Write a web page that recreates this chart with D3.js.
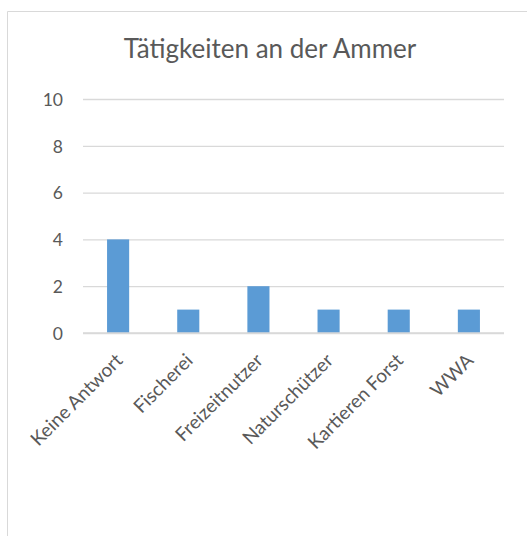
<!DOCTYPE html>
<html lang="de">
<head>
<meta charset="UTF-8">
<title>Tätigkeiten an der Ammer</title>
<script src="https://d3js.org/d3.v7.min.js"></script>
<style>
    html, body { margin: 0; padding: 0; background: #fff; overflow: hidden; }
    svg { display: block; }
</style>
</head>
<body>
<div id="chart"></div>
<script>
    // Daten aus dem Bild
    const categories = ["Keine Antwort", "Fischerei", "Freizeitnutzer", "Naturschützer", "Kartieren Forst", "WWA"];
    const values = [4, 1, 2, 1, 1, 1];
    const yTicks = [0, 2, 4, 6, 8, 10];
    const title = "Tätigkeiten an der Ammer";

    const width = 527, height = 536;
    const margin = { top: 99, right: 23, bottom: 203, left: 83 };
    const font = "Lato, 'Open Sans', sans-serif";

    const svg = d3.select("#chart").append("svg")
        .attr("width", width)
        .attr("height", height)
        .style("font-family", font);

    // Rahmen links und oben (rechts/unten liegt ausserhalb des Bildes)
    svg.append("path")
        .attr("d", `M7.5,${height} V11.5 H${width}`)
        .attr("fill", "none")
        .attr("stroke", "#d9d9d9");

    svg.append("text")
        .attr("x", 270).attr("y", 58)
        .attr("text-anchor", "middle")
        .attr("fill", "#595959")
        .style("font-size", "26px")
        .text(title);

    const x = d3.scaleBand()
        .domain(categories)
        .range([margin.left, width - margin.right])
        .paddingInner(0.685)
        .paddingOuter(0.343);

    const y = d3.scaleLinear()
        .domain([0, 10])
        .range([height - margin.bottom, margin.top]);

    // Gitterlinien
    const yAxis = svg.append("g")
        .attr("transform", `translate(${margin.left},0)`)
        .call(d3.axisLeft(y).tickValues(yTicks).tickSize(-(width - margin.left - margin.right)).tickPadding(20));
    yAxis.attr("font-family", null).attr("font-size", null);
    yAxis.select(".domain").remove();
    yAxis.selectAll(".tick line").attr("stroke", "#d9d9d9").attr("stroke-width", 1.3);
    yAxis.selectAll(".tick text")
        .attr("dy", "0.36em")
        .attr("fill", "#595959")
        .style("font-size", "17.5px");

    svg.append("g")
        .selectAll("rect")
        .data(values)
        .join("rect")
        .attr("x", (d, i) => x(categories[i]))
        .attr("y", d => y(d))
        .attr("width", x.bandwidth())
        .attr("height", d => y(0) - y(d))
        .attr("fill", "#5b9bd5");

    // Nulllinie
    svg.append("line")
        .attr("x1", margin.left).attr("x2", width - margin.right)
        .attr("y1", y(0)).attr("y2", y(0))
        .attr("stroke", "#d9d9d9").attr("stroke-width", 1.5);

    const xAxis = svg.append("g")
        .attr("transform", `translate(0,${y(0)})`)
        .call(d3.axisBottom(x).tickSize(0).tickPadding(0));
    xAxis.attr("font-family", null).attr("font-size", null);
    xAxis.select(".domain").remove();
    xAxis.selectAll(".tick text")
        .attr("text-anchor", "end")
        .attr("fill", "#595959")
        .style("font-size", "19px")
        .attr("transform", "translate(1,24) rotate(-45)")
        .attr("dy", "0.35em");
</script>
</body>
</html>
